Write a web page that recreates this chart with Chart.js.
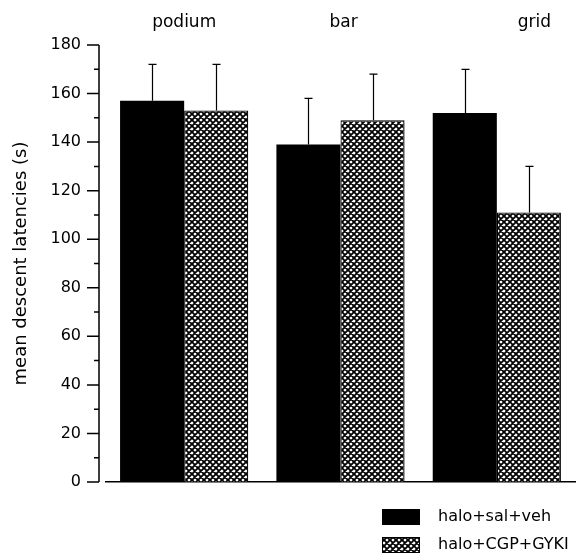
<!DOCTYPE html>
<html>
<head>
<meta charset="utf-8">
<script src="https://cdn.jsdelivr.net/npm/chart.js@4/dist/chart.umd.min.js"></script>
<style>
  html, body { margin: 0; padding: 0; background: #fff; }
  #wrap { position: relative; width: 576px; height: 555px; }
</style>
</head>
<body>
<div id="wrap"><canvas id="c" width="576" height="555"></canvas></div>
<script>
// ---- data ----
const categories = ['podium', 'bar', 'grid'];
const seriesNames = ['halo+sal+veh', 'halo+CGP+GYKI'];
const salVeh = [157, 139, 152];
const salVehErr = [15, 19, 18];
const cgpGyki = [153, 149, 111];
const cgpGykiErr = [19, 19, 19];
const yTickMin = 0, yTickMax = 180, yTickStep = 20;

// header label placement (in category units) as in the original figure
const headerShift = [0, 0.02, 0.24];

const FONT = 'DejaVu Sans';

function makeHatch() {
  const s = 6;
  const c = document.createElement('canvas');
  c.width = s; c.height = s;
  const g = c.getContext('2d');
  g.fillStyle = '#fff';
  g.fillRect(0, 0, s, s);
  g.strokeStyle = '#000';
  g.lineWidth = 1.8;
  g.beginPath();
  for (const o of [-s, 0, s]) {
    g.moveTo(o - 1, -1); g.lineTo(o + s + 1, s + 1);
    g.moveTo(o - 1, s + 1); g.lineTo(o + s + 1, -1);
  }
  g.stroke();
  return g.createPattern(c, 'repeat');
}
const hatch = makeHatch();

const errorBars = {
  id: 'errorBars',
  afterDatasetsDraw(chart) {
    const ctx = chart.ctx;
    const y = chart.scales.y;
    const errs = [salVehErr, cgpGykiErr];
    ctx.save();
    ctx.strokeStyle = '#000';
    ctx.lineWidth = 1.2;
    chart.data.datasets.forEach((ds, di) => {
      const meta = chart.getDatasetMeta(di);
      meta.data.forEach((bar, i) => {
        const top = y.getPixelForValue(ds.data[i] + errs[di][i]);
        const x = Math.round(bar.x) + 0.5;
        ctx.beginPath();
        ctx.moveTo(x, bar.y);
        ctx.lineTo(x, top);
        ctx.moveTo(x - 4, top);
        ctx.lineTo(x + 4, top);
        ctx.stroke();
      });
    });
    ctx.restore();
  }
};

const yAxisLine = {
  id: 'yAxisLine',
  afterDraw(chart) {
    const ctx = chart.ctx;
    const y = chart.scales.y;
    const x0 = chart.chartArea.left - 7;
    ctx.save();
    ctx.strokeStyle = '#000';
    ctx.lineWidth = 1.5;
    ctx.beginPath();
    ctx.moveTo(x0, y.getPixelForValue(yTickMin));
    ctx.lineTo(x0, y.getPixelForValue(yTickMax));
    for (let v = yTickMin; v <= yTickMax; v += yTickStep / 2) {
      const py = y.getPixelForValue(v);
      const len = (v % yTickStep === 0) ? 12 : 5;
      ctx.moveTo(x0 - len, py);
      ctx.lineTo(x0, py);
    }
    ctx.stroke();
    ctx.restore();
  }
};

const boxLegend = {
  id: 'boxLegend',
  afterDraw(chart) {
    const ctx = chart.ctx;
    const items = chart.legend.legendItems || [];
    ctx.save();
    ctx.font = '16px "' + FONT + '"';
    ctx.textBaseline = 'middle';
    ctx.fillStyle = '#000';
    const bx = 382, bw = 38, bh = 16, tx = 438;
    const rows = [517, 545];
    items.forEach((it, i) => {
      const cy = rows[i];
      ctx.fillStyle = it.fillStyle;
      ctx.fillRect(bx, cy - bh / 2, bw, bh);
      if (it.lineWidth) {
        ctx.strokeStyle = '#000';
        ctx.lineWidth = 1;
        ctx.strokeRect(bx + 0.5, cy - bh / 2 + 0.5, bw - 1, bh - 1);
      }
      ctx.fillStyle = '#000';
      ctx.fillText(it.text, tx, cy);
    });
    ctx.restore();
  }
};

new Chart(document.getElementById('c'), {
  type: 'bar',
  data: {
    labels: categories,
    datasets: [
      { label: seriesNames[0], data: salVeh, backgroundColor: '#000', borderWidth: 0,
        categoryPercentage: 0.82, barPercentage: 1.0 },
      { label: seriesNames[1], data: cgpGyki, backgroundColor: hatch, borderColor: '#000', borderWidth: 1.2,
        categoryPercentage: 0.82, barPercentage: 1.0 }
    ]
  },
  options: {
    responsive: false,
    animation: false,
    layout: { padding: { left: 11, right: 1, top: 0, bottom: 73 } },
    plugins: {
      legend: { display: false },
      tooltip: { enabled: false }
    },
    scales: {
      x: {
        type: 'category',
        position: 'bottom',
        offset: true,
        grid: { display: false },
        ticks: { display: false },
        border: { display: true, color: '#000', width: 1.5 },
        afterFit(s) { s.height = 0; }
      },
      xTop: {
        type: 'linear',
        position: 'top',
        offset: false,
        min: -0.5,
        max: categories.length - 0.5,
        grid: { display: false },
        border: { display: false },
        afterBuildTicks(s) {
          s.ticks = categories.map((c, i) => ({ value: i + headerShift[i] }));
        },
        ticks: {
          color: '#000',
          font: { family: FONT, size: 17 },
          padding: 4,
          callback(v, i) { return categories[i]; }
        },
        afterFit(s) { s.height = 45; }
      },
      y: {
        min: yTickMin,
        max: yTickMax,
        grid: { display: false },
        border: { display: false },
        ticks: {
          stepSize: yTickStep,
          color: '#000',
          font: { family: FONT, size: 16 },
          padding: 17
        },
        title: {
          display: true,
          text: 'mean descent latencies (s)',
          color: '#000',
          font: { family: FONT, size: 18 },
          padding: { top: 0, bottom: 0 }
        },
        afterFit(s) { s.width = 95; }
      }
    }
  },
  plugins: [errorBars, yAxisLine, boxLegend]
});
</script>
</body>
</html>
